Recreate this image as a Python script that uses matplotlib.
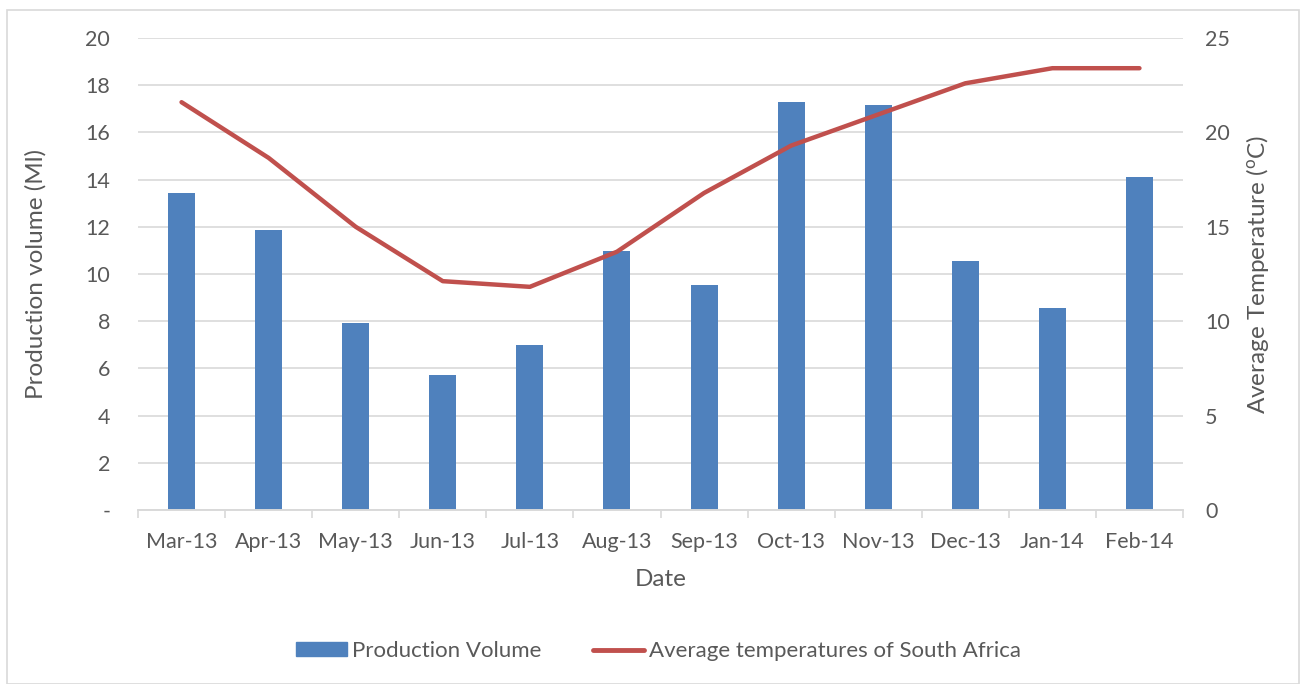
import numpy as np
import matplotlib.pyplot as plt
from matplotlib.patches import Rectangle
from matplotlib.lines import Line2D

months = ["Mar-13", "Apr-13", "May-13", "Jun-13", "Jul-13", "Aug-13",
          "Sep-13", "Oct-13", "Nov-13", "Dec-13", "Jan-14", "Feb-14"]
production = [13.43, 11.86, 7.92, 5.72, 6.99, 10.97, 9.53, 17.3, 17.18, 10.56, 8.58, 14.11]
temperature = [21.6, 18.65, 15.0, 12.12, 11.82, 13.68, 16.79, 19.3, 20.95, 22.6, 23.4, 23.4]

left_ticks = [0, 2, 4, 6, 8, 10, 12, 14, 16, 18, 20]
left_labels = ["-", "2", "4", "6", "8", "10", "12", "14", "16", "18", "20"]
right_ticks = [0, 5, 10, 15, 20, 25]

BLUE = "#4f81bd"
RED = "#c0504d"
GRID = "#d9d9d9"
TXT = "#595959"

plt.rcParams["font.family"] = ["Lato", "DejaVu Sans"]
plt.rcParams["mathtext.default"] = "regular"
FS = 15.5

fig = plt.figure(figsize=(13.04, 6.84), dpi=100)
fig.patches.append(Rectangle((7 / 1304, 0), 1292 / 1304, 674 / 684, transform=fig.transFigure,
                             fill=False, edgecolor=GRID, lw=1.2))
ax = fig.add_axes([138 / 1304, 1 - 510 / 684, (1183 - 138) / 1304, (510 - 38) / 684])
ax2 = ax.twinx()

x = np.arange(len(months))
ax.bar(x, production, width=0.31, color=BLUE, zorder=2)
ax2.plot(x, temperature, color=RED, lw=3.2, solid_capstyle="round", solid_joinstyle="round", zorder=3)

ax.set_xlim(-0.5, len(months) - 0.5)
ax.set_ylim(0, 20)
ax2.set_ylim(0, 25)
ax.set_yticks(left_ticks)
ax.set_yticklabels(left_labels)
ax2.set_yticks(right_ticks)
ax.set_xticks(x)
ax.set_xticklabels(months)
ax.set_xticks(np.arange(-0.5, len(months)), minor=True)

ax.grid(axis="y", color=GRID, lw=1.2, zorder=0)
ax.set_axisbelow(True)
for a in (ax, ax2):
    for s in ("top", "left", "right"):
        a.spines[s].set_visible(False)
    a.spines["bottom"].set_color(GRID)
    a.spines["bottom"].set_linewidth(1.2)

ax.tick_params(axis="y", length=0, pad=20, labelsize=FS, labelcolor=TXT)
ax2.tick_params(axis="y", length=0, pad=16, labelsize=FS, labelcolor=TXT)
ax.tick_params(axis="x", which="major", length=0, pad=16, labelsize=FS, labelcolor=TXT)
ax.tick_params(axis="x", which="minor", length=6, width=1.2, color=GRID)

ax.set_xlabel("Date", fontsize=17.5, color=TXT, labelpad=12)
ax.set_ylabel("Production volume (Ml)", fontsize=17.5, color=TXT, labelpad=28)
ax2.set_ylabel("Average Temperature ($^{o}$C)", fontsize=17.5, color=TXT, labelpad=10)

handles = [Rectangle((0, 0), 1, 1, color=BLUE),
           Line2D([0], [0], color=RED, lw=3.5, solid_capstyle="round")]
fig.legend(handles, ["Production Volume", "Average temperatures of South Africa"],
           loc="center", bbox_to_anchor=(0.505, 0.048), ncol=2, frameon=False,
           fontsize=16, labelcolor=TXT, handlelength=2.3, handleheight=0.6,
           handletextpad=0.25, columnspacing=2.3)

fig.savefig("out.png", dpi=100)
